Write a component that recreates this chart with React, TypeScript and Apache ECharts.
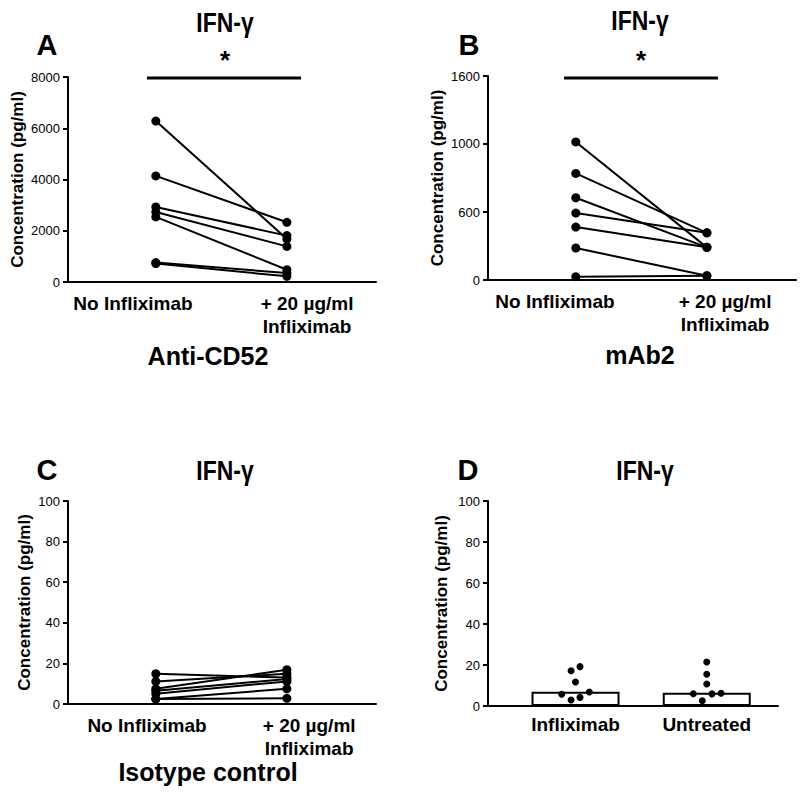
import React, { useEffect, useRef } from "react";
import * as echarts from "echarts";

// ---- Data ----
const pairLabels = ["No Infliximab", "+ 20 µg/ml\nInfliximab"];
// Panel A: Anti-CD52 (pg/ml)
const aNoInflix = [6280, 4140, 2930, 2730, 2540, 760, 720];
const aInflix = [1680, 2330, 1810, 1390, 480, 350, 220];
// Panel B: mAb2 (values in linear axis units, axis labelled 0/600/1000/1600 at equal steps)
const bNoInflix = [1083, 836, 645, 525, 415, 251, 26];
const bInflix = [256, 370, 256, 370, 256, 34, 34];
const bTickValues = [0, 533.33, 1066.67, 1600];
const bTickLabels = ["0", "600", "1000", "1600"];
// Panel C: Isotype control
const cNoInflix = [14.9, 11.1, 7.5, 6.5, 5.1, 2.5, 2.5];
const cInflix = [13.0, 14.9, 16.9, 12.3, 11.1, 7.5, 2.8];
// Panel D
const dCategories = ["Infliximab", "Untreated"];
const dBars = [7.0, 6.5];
const dInfliximab = [17.2, 19.2, 11.7, 5.7, 6.8, 2.9, 4.2];
const dInfliximabJitter = [-0.034, 0.034, 0, -0.105, 0.105, -0.034, 0.034];
const dUntreated = [21.5, 15.5, 10.7, 6.0, 5.9, 6.2, 2.6];
const dUntreatedJitter = [0, 0, 0, -0.102, 0.04, 0.109, -0.034];

const FONT = "'Liberation Sans', Arial, Helvetica, sans-serif";
const BLACK = "#000";

function pairSeries(pre: number[], post: number[], idx: number) {
  return pre.map((v, i) => ({
    type: "line",
    xAxisIndex: idx,
    yAxisIndex: idx,
    data: [
      [1, v],
      [2, post[i]],
    ],
    symbol: "circle",
    symbolSize: 9,
    lineStyle: { color: BLACK, width: 2 },
    itemStyle: { color: BLACK, opacity: 1 },
    z: 3,
  }));
}

function yAxisBase(idx: number, nameGap: number) {
  return {
    gridIndex: idx,
    type: "value",
    name: "Concentration (pg/ml)",
    nameLocation: "middle",
    nameGap,
    nameRotate: 90,
    nameTextStyle: { fontFamily: FONT, fontWeight: "bold", fontSize: 17, color: BLACK },
    axisLine: { show: true, lineStyle: { color: BLACK, width: 2 } },
    axisTick: { show: true, length: 5, lineStyle: { color: BLACK, width: 2 } },
    axisLabel: {
      fontFamily: FONT,
      fontSize: 13,
      color: BLACK,
      margin: 8,
      formatter: (v: number) => String(v),
    },
    splitLine: { show: false },
  };
}

function xAxisBase(
  idx: number,
  min: number,
  max: number,
  labelPos: number[],
  labels: string[],
  margin: number
) {
  return {
    gridIndex: idx,
    type: "value",
    min,
    max,
    axisLine: { show: true, onZero: false, lineStyle: { color: BLACK, width: 2 } },
    axisTick: { show: false },
    splitLine: { show: false },
    axisLabel: {
      customValues: labelPos,
      formatter: (v: number) => {
        const k = labelPos.findIndex((p) => Math.abs(p - v) < 1e-6);
        return k >= 0 ? labels[k] : "";
      },
      fontFamily: FONT,
      fontWeight: "bold",
      fontSize: 19,
      color: BLACK,
      lineHeight: 23,
      margin,
      align: "center",
      verticalAlign: "top",
    },
  };
}

function txt(text: string, x: number, y: number, size: number, scaleX = 1) {
  return {
    type: "text",
    x,
    y,
    scaleX,
    style: {
      text,
      fontFamily: FONT,
      fontWeight: "bold",
      fontSize: size,
      fill: BLACK,
      align: "center",
      verticalAlign: "middle",
    },
  };
}

export default function App() {
  const ref = useRef<HTMLDivElement>(null);
  useEffect(() => {
    document.body.style.margin = "0";
    if (!ref.current) return;
    const chart = echarts.init(ref.current, undefined, { renderer: "svg" });
    const option: any = {
      animation: false,
      backgroundColor: "#fff",
      grid: [
        { left: 68, top: 77, width: 308, height: 205 },
        { left: 488, top: 76, width: 308, height: 204 },
        { left: 68, top: 501, width: 308, height: 203 },
        { left: 488, top: 501, width: 290, height: 205 },
      ],
      xAxis: [
        xAxisBase(0, 0.33, 2.68, [0.826, 2.154], pairLabels, 10),
        xAxisBase(1, 0.33, 2.68, [0.841, 2.139], pairLabels, 10),
        xAxisBase(2, 0.33, 2.68, [0.933, 2.17], pairLabels, 10),
        xAxisBase(3, 0.333, 2.543, [1, 2], dCategories, 7),
      ],
      yAxis: [
        { ...yAxisBase(0, 42), min: 0, max: 8000, interval: 2000 },
        {
          ...yAxisBase(1, 42),
          min: 0,
          max: 1600,
          axisLabel: {
            fontFamily: FONT,
            fontSize: 13,
            color: BLACK,
            margin: 8,
            customValues: bTickValues,
            formatter: (v: number) => {
              const k = bTickValues.findIndex((p) => Math.abs(p - v) < 0.01);
              return k >= 0 ? bTickLabels[k] : "";
            },
          },
          axisTick: {
            show: true,
            length: 5,
            customValues: bTickValues,
            lineStyle: { color: BLACK, width: 2 },
          },
        },
        { ...yAxisBase(2, 35), min: 0, max: 100, interval: 20 },
        { ...yAxisBase(3, 38), min: 0, max: 100, interval: 20 },
      ],
      series: [
        ...pairSeries(aNoInflix, aInflix, 0),
        ...pairSeries(bNoInflix, bInflix, 1),
        ...pairSeries(cNoInflix, cInflix, 2),
        {
          type: "bar",
          xAxisIndex: 3,
          yAxisIndex: 3,
          data: dBars.map((v, i) => [i + 1, v]),
          barWidth: 88,
          itemStyle: { color: "#fff", borderColor: BLACK, borderWidth: 2 },
          z: 2,
        },
        {
          type: "scatter",
          xAxisIndex: 3,
          yAxisIndex: 3,
          data: [
            ...dInfliximab.map((v, i) => [1 + dInfliximabJitter[i], v]),
            ...dUntreated.map((v, i) => [2 + dUntreatedJitter[i], v]),
          ],
          symbol: "circle",
          symbolSize: 7,
          itemStyle: { color: BLACK, opacity: 1 },
          z: 4,
        },
      ],
      graphic: [
        txt("A", 47, 45, 29),
        txt("IFN-γ", 225, 22, 27, 0.85),
        txt("*", 225, 60, 26),
        { type: "line", shape: { x1: 147, y1: 78, x2: 301, y2: 78 }, style: { stroke: BLACK, lineWidth: 3 } },
        txt("Anti-CD52", 208, 356, 25),
        txt("B", 469, 45, 29),
        txt("IFN-γ", 640, 20, 27, 0.85),
        txt("*", 641, 60, 26),
        { type: "line", shape: { x1: 564, y1: 78, x2: 718, y2: 78 }, style: { stroke: BLACK, lineWidth: 3 } },
        txt("mAb2", 640, 355, 25),
        txt("C", 47, 470, 29),
        txt("IFN-γ", 225, 470, 27, 0.85),
        txt("Isotype control", 208, 772, 25),
        txt("D", 468, 470, 29),
        txt("IFN-γ", 645, 470, 27, 0.85),
      ],
    };
    chart.setOption(option);
    return () => chart.dispose();
  }, []);
  return <div ref={ref} style={{ width: 800, height: 795 }} />;
}
